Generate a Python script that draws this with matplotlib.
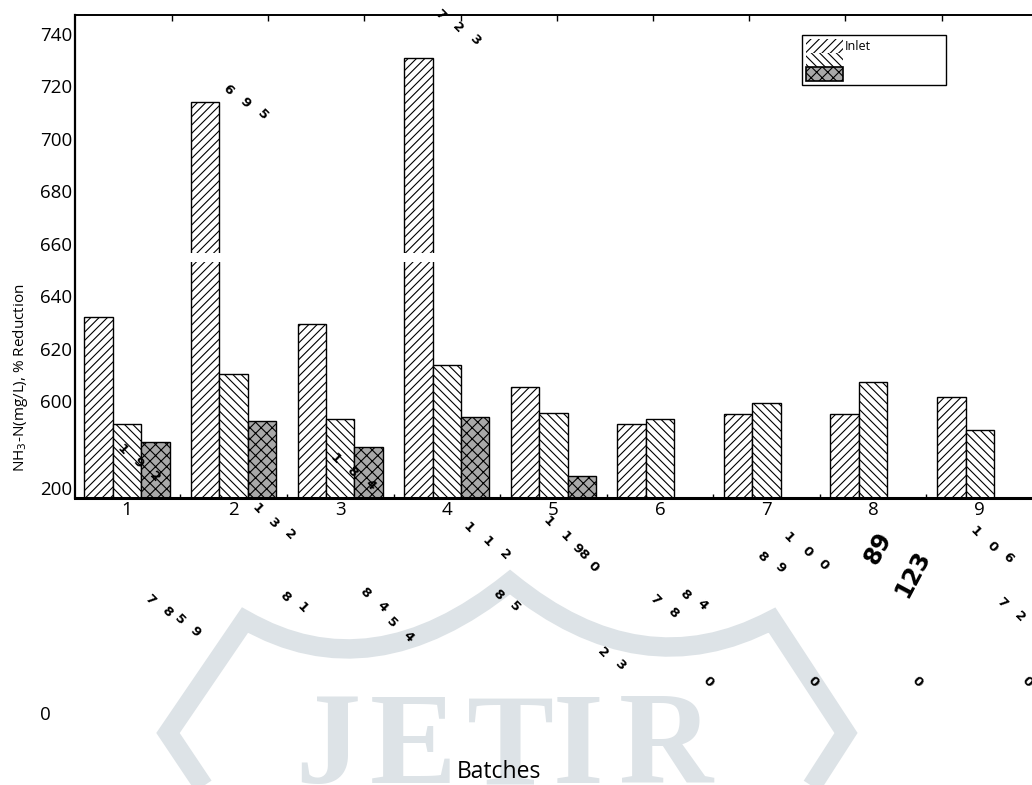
import matplotlib
matplotlib.use('Agg')
import matplotlib.pyplot as plt
import numpy as np
from matplotlib.patches import Patch, PathPatch
from matplotlib.path import Path

# ---------------- data ----------------
batches = [1, 2, 3, 4, 5, 6, 7, 8, 9]
inlet = [632.0, 713.9, 629.3, 730.7, 605.3, 591.2, 595.0, 595.0, 601.5]
outlet = [591.2, 610.3, 593.1, 613.7, 595.4, 593.1, 599.2, 607.2, 589.0]
reduction_batches = [1, 2, 3, 4, 5]
reduction = [584.4, 592.4, 582.5, 593.9, 571.4]
ytick_values = [567, 600, 620, 640, 660, 680, 700, 720, 740]
ytick_labels = ['200', '600', '620', '640', '660', '680', '700', '720', '740']
break_low, break_high = 653.0, 656.5
legend_labels = ['Inlet', ' ' * 30, '']

# garbled rotated labels (text, x px, y px, rotation, size)
S = 9.5
stray = [
    ('7', 440, 15, -45, S), ('2', 458, 28, -45, S), ('3', 475, 40, -45, S),
    ('6', 228, 90, -45, S), ('9', 245, 103, -45, S), ('5', 263, 115, -45, S),
    ('1', 122, 450, -45, S), ('9', 138, 463, -45, S), ('2', 155, 477, -45, S),
    ('1', 335, 459, -45, S), ('8', 352, 472, -45, S), ('4', 370, 485, -45, S),
    ('1', 257, 509, -45, S), ('3', 273, 523, -45, S), ('2', 290, 535, -45, S),
    ('1', 468, 528, -45, S), ('1', 487, 542, -45, S), ('2', 505, 555, -45, S),
    ('1', 548, 522, -45, S), ('1', 565, 537, -45, S), ('98', 580, 552, -45, S),
    ('0', 593, 567, -45, S),
    ('8', 762, 557, -45, S), ('9', 780, 568, -45, S), ('1', 788, 538, -45, S),
    ('0', 807, 552, -45, S), ('0', 823, 565, -45, S),
    ('89', 878, 548, 62, 17), ('123', 913, 574, 62, 17),
    ('1', 975, 532, -45, S), ('0', 992, 547, -45, S), ('6', 1008, 558, -45, S),
    ('7', 1002, 603, -45, S), ('2', 1020, 617, -45, S),
    ('7', 655, 600, -45, S), ('8', 673, 613, -45, S), ('8', 685, 595, -45, S),
    ('4', 702, 605, -45, S),
    ('2', 603, 653, -45, S), ('3', 620, 665, -45, S),
    ('0', 708, 682, -45, S), ('0', 813, 682, -45, S), ('0', 917, 682, -45, S),
    ('0', 1027, 682, -45, S),
    ('7', 150, 600, -45, S), ('8', 167, 612, -45, S), ('5', 180, 620, -45, S),
    ('9', 195, 632, -45, S),
    ('8', 285, 597, -45, S), ('1', 302, 608, -45, S),
    ('8', 365, 593, -45, S), ('4', 382, 607, -45, S), ('5', 392, 623, -45, S),
    ('4', 408, 637, -45, S),
    ('8', 498, 595, -45, S), ('5', 515, 607, -45, S),
]

# ---------------- figure ----------------
plt.rcParams['hatch.linewidth'] = 0.8
plt.rcParams['font.family'] = ['Open Sans', 'DejaVu Sans']
W, H = 1032, 785
fig = plt.figure(figsize=(W / 100, H / 100), dpi=100)

# watermark layer
wm_color = '#dde3e7'
bg = fig.add_axes([0, 0, 1, 1], zorder=-2)
bg.set_xlim(0, W)
bg.set_ylim(H, 0)
bg.axis('off')
verts = [(245, 848), (168, 733), (245, 620), (372, 693), (510, 582),
         (641, 689), (772, 620), (846, 733), (772, 848), (245, 848)]
codes = [Path.MOVETO, Path.LINETO, Path.LINETO, Path.CURVE3, Path.CURVE3,
         Path.CURVE3, Path.CURVE3, Path.LINETO, Path.LINETO, Path.CLOSEPOLY]
bg.add_patch(PathPatch(Path(verts, codes), facecolor='none', edgecolor=wm_color,
                       lw=14, joinstyle='miter', clip_on=False))
for ch, cx in zip('JETIR', [328, 413, 510, 578, 666]):
    bg.text(cx, 783, ch, fontsize=94, family='Liberation Serif', weight='bold',
            color=wm_color, ha='center', va='baseline')

# main axes
x0 = 75
ax = fig.add_axes([x0 / W, 1 - 498 / H, (W - x0) / W, (498 - 15) / H], zorder=0)
ax.set_xlim(0.512, 9.49)
ax.set_ylim(563.05, 747.05)

x = np.array(batches, float)
w = 0.267
ax.bar(x - w, inlet, w, facecolor='white', edgecolor='black', hatch='////',
       linewidth=1.0, zorder=1)
ax.bar(x, outlet, w, facecolor='white', edgecolor='black', hatch='\\\\\\\\',
       linewidth=1.0, zorder=1)
ax.bar(np.array(reduction_batches, float) + w, reduction, w, facecolor='#a8a8a8',
       edgecolor='black', hatch='xxx', linewidth=1.0, zorder=1)
ax.axhspan(break_low, break_high, facecolor='white', edgecolor='none', zorder=1.6)

ax.set_xticks(batches)
ax.set_xticklabels([str(b) for b in batches])
ax.set_xticks(np.array(batches[:-1]) + 0.5, minor=True)
ax.tick_params(axis='x', which='major', length=0, pad=2, labelsize=13.5)
ax.tick_params(axis='x', which='minor', direction='in', length=3, width=1)
ax.set_yticks(ytick_values)
ax.set_yticklabels(ytick_labels)
ax.tick_params(axis='y', length=0, pad=2, labelsize=13.5)

ax.spines['right'].set_visible(False)
ax.spines['bottom'].set_linewidth(2.2)
ax.spines['left'].set_linewidth(1.6)
ax.spines['top'].set_linewidth(1.2)

sec = ax.secondary_xaxis('top')
sec.set_xticks(np.arange(1.422, 9.49, 0.9025))
sec.tick_params(direction='in', length=4, width=1, labeltop=False)
sec.spines['top'].set_linewidth(1.2)

h1 = Patch(facecolor='white', edgecolor='black', hatch='////', linewidth=0)
h2 = Patch(facecolor='white', edgecolor='black', hatch='\\\\\\\\', linewidth=0)
h3 = Patch(facecolor='#a8a8a8', edgecolor='black', hatch='xxx', linewidth=1.2)
leg = ax.legend([h1, h2, h3], legend_labels, loc='upper left',
                bbox_to_anchor=((802 - x0) / (W - x0), (498 - 35) / (498 - 15)),
                fontsize=9, handlelength=2.95, handleheight=1.35, labelspacing=0,
                handletextpad=0.2, borderpad=0.3, borderaxespad=0, frameon=True,
                fancybox=False, edgecolor='black', framealpha=1)
leg.get_frame().set_linewidth(1.0)

fig.text(21 / W, 1 - 378 / H, 'NH$_3$-N(mg/L), % Reduction', rotation=90,
         ha='center', va='center', fontsize=11)
fig.text(499 / W, 1 - 772 / H, 'Batches', ha='center', va='center', fontsize=16.5)
fig.text(45 / W, 1 - 715 / H, '0', ha='center', va='center', fontsize=13.5)

# top layer for stray rotated digits
top = fig.add_axes([0, 0, 1, 1], zorder=5)
top.set_xlim(0, W)
top.set_ylim(H, 0)
top.axis('off')
top.patch.set_visible(False)
for t, px, py, rot, sz in stray:
    top.text(px, py, t, rotation=rot, fontsize=sz, ha='center', va='center',
             family='DejaVu Sans', weight='bold', rotation_mode='anchor')

fig.savefig('out.png', dpi=100)
